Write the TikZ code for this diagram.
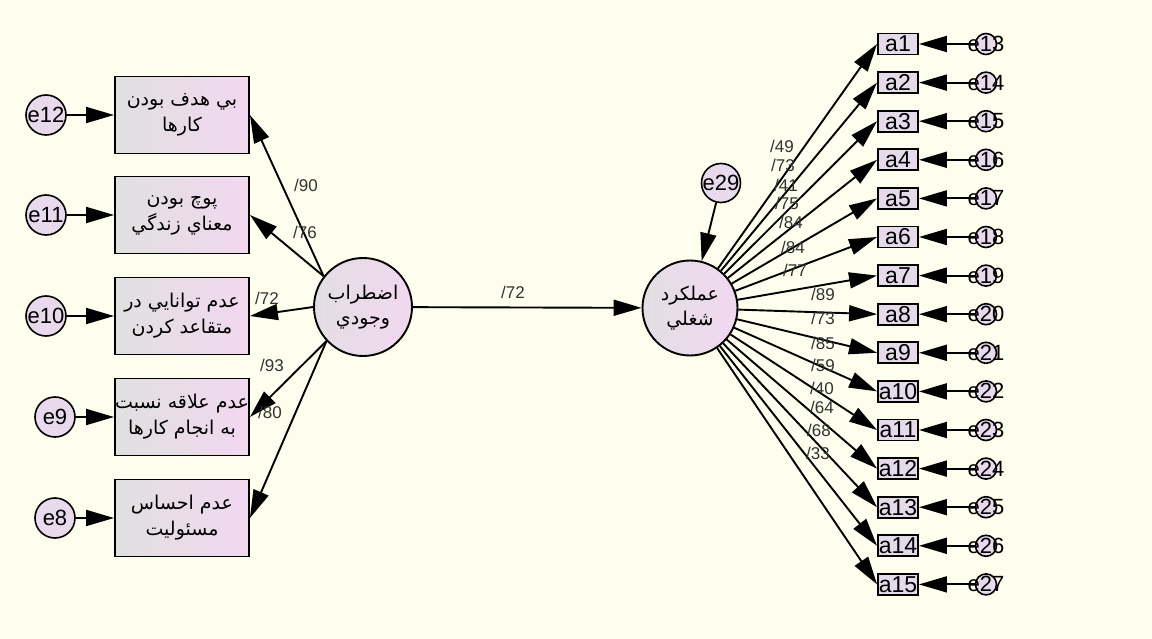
\documentclass[tikz,border=0pt]{standalone}
\usepackage{fontspec}
\setmainfont{Liberation Sans}
\newfontfamily\arabicfont[Script=Arabic]{DejaVu Sans}
\TeXXeTstate=1
\usetikzlibrary{arrows.meta}
\definecolor{bg}{RGB}{254,254,238}
\definecolor{boxL}{RGB}{224,224,224}
\definecolor{boxR}{RGB}{242,216,240}
\definecolor{errfill}{RGB}{232,218,236}
\definecolor{itemfill}{RGB}{228,218,234}
\definecolor{lblcol}{RGB}{50,50,50}
\newcommand\fa[1]{{\arabicfont\beginR #1\endR}}
\tikzset{
  obs/.style={draw, line width=1.9pt, minimum width=134pt, minimum height=77pt,
    left color=boxL, right color=boxR, align=center, inner sep=0pt,
    font=\fontsize{19}{26}\selectfont},
  lat/.style={circle, draw, line width=1.9pt, left color=boxL!70!errfill, right color=boxR,
    inner sep=0pt, align=center, font=\fontsize{19}{25}\selectfont},
  err/.style={circle, draw, line width=1.6pt, fill=errfill, inner sep=0pt,
    minimum size=40pt, font=\fontsize{22}{22}\selectfont},
  item/.style={draw, line width=1.9pt, fill=itemfill, minimum width=40pt,
    minimum height=21pt, inner sep=0pt, font=\fontsize{23}{23}\selectfont},
  serr/.style={circle, draw, line width=1.6pt, fill=errfill, minimum size=21pt,
    inner sep=0pt, font=\fontsize{22}{22}\selectfont},
  lbl/.style={font=\fontsize{17}{17}\selectfont, text=lblcol, inner sep=0pt},
  arr/.style={line width=1.9pt, -{Triangle[length=28pt,width=16pt]}},
}
\begin{document}
\begin{tikzpicture}[x=1pt,y=-1pt]
\path[use as bounding box, fill=bg] (0,0) rectangle (1152,639);

% latent variables
\node[lat, minimum size=98pt] (c1) at (363,307) {\fa{اضطراب}\\\fa{وجودي}};
\node[lat, minimum size=95pt] (c2) at (690,308) {\fa{عملکرد}\\\fa{شغلي}};

% left observed boxes
\node[obs] (b1) at (182,115) {\fa{بي هدف بودن}\\\fa{کارها}};
\node[obs] (b2) at (182,215) {\fa{پوچ بودن}\\\fa{معناي زندگي}};
\node[obs] (b3) at (182,316) {\fa{عدم توانايي در}\\\fa{متقاعد کردن}};
\node[obs] (b4) at (182,417) {\fa{عدم علاقه نسبت}\\\fa{به انجام کارها}};
\node[obs] (b5) at (182,518) {\fa{عدم احساس}\\\fa{مسئوليت}};

% left errors
\node[err] (e12) at (46,115) {\makebox[0pt]{e12}};
\node[err] (e11) at (46,215) {\makebox[0pt]{e11}};
\node[err] (e10) at (46,316) {\makebox[0pt]{e10}};
\node[err] (e9)  at (55,417) {\makebox[0pt]{e9}};
\node[err] (e8)  at (55,518) {\makebox[0pt]{e8}};

\foreach \e/\b in {e12/b1,e11/b2,e10/b3,e9/b4,e8/b5}
  \draw[arr] (\e) -- (\b.west);

\draw[arr] (c1.142) -- (b1.east);
\draw[arr] (c1.142) -- (b2.east);
\draw[arr] (c1.180) -- (b3.east);
\draw[arr] (c1.223) -- (b4.east);
\draw[arr] (c1.223) -- (b5.east);

\node[lbl] (l90) at (306,185) {/90};
\node[lbl] (l76) at (305,232) {/76};
\node[lbl] (l72a) at (267,298) {/72};
\node[lbl] (l93) at (272,365) {/93};
\node[lbl] (l80) at (270,412) {/80};

% structural path
\draw[arr] (c1) -- (c2);
\node[lbl] (l72) at (513,292) {/72};

% disturbance
\node[err, minimum size=39pt] (e29) at (721,183) {\makebox[0pt]{e29}};
\draw[arr] (e29) -- (c2);

% right items
\foreach \i in {1,...,15} {
  \pgfmathsetmacro\yy{44+38.6*(\i-1)}
  \pgfmathtruncatemacro\ee{\i+12}
  \node[item] (a\i) at (898,\yy) {\makebox[0pt]{a\i}};
  \node[serr] (e\ee) at (986,\yy) {\makebox[0pt]{e\ee}};
  \draw[arr] (e\ee) -- (a\i.east);
  \draw[arr] (c2) -- (a\i.west);
}

% right loadings
\foreach \v/\x/\y [count=\k] in {49/782/146, 73/783/165, 41/786/185, 75/787/203,
  84/791/222, 84/793/247, 77/795/270, 89/823/294, 73/823/318, 85/823/343,
  59/823/365, 40/822/388, 64/822/407, 68/819/430, 33/818/453}
  \node[lbl] (r\k) at (\x,\y) {/\v};
\end{tikzpicture}
\end{document}
